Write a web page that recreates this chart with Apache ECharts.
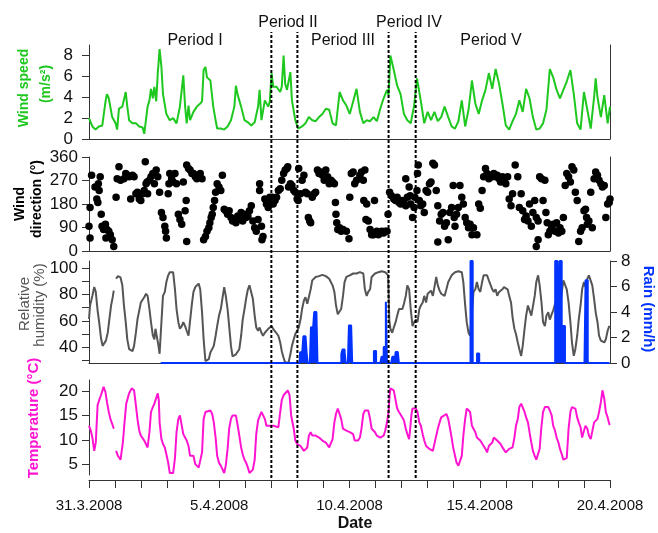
<!DOCTYPE html>
<html><head><meta charset="utf-8">
<script src="https://cdn.jsdelivr.net/npm/echarts@6/dist/echarts.min.js"></script>
<style>html,body{margin:0;padding:0;background:#fff}#c{width:658px;height:533px}</style>
</head><body><div id="c"></div>
<script>
// ---- axis / tick data ----
const dateTicks = [0, 5, 10, 15, 20];            // days since 31.3.2008 00:00
const dateLabels = ['31.3.2008', '5.4.2008', '10.4.2008', '15.4.2008', '20.4.2008'];
const periodBounds = [7.0, 8.0, 11.5, 12.54];    // days
const periodNames = ['Period I', 'Period II', 'Period III', 'Period IV', 'Period V'];
const wsTicks = [0, 2, 4, 6, 8];
const rhTicks = [30, 40, 50, 60, 70, 80, 90, 100];
const rhLabels = [40, 60, 80, 100];
const tTicks = [5, 10, 15, 20];

// ---- wind speed [day, m/s] ----
const wsData = [[0.00,2.0],[0.13,1.2],[0.25,0.9],[0.38,1.2],[0.51,1.3],[0.64,3.7],[0.69,4.3],[0.76,3.9],[0.89,2.1],[1.02,1.5],[1.08,0.9],[1.15,2.9],[1.28,3.1],[1.41,4.5],[1.47,3.1],[1.54,1.8],[1.67,1.5],[1.80,1.5],[1.93,1.2],[2.06,1.1],[2.12,0.5],[2.25,3.1],[2.32,3.7],[2.38,4.8],[2.45,3.9],[2.51,5.0],[2.58,3.6],[2.64,6.3],[2.71,8.6],[2.78,6.9],[2.84,4.3],[2.97,2.4],[3.10,1.8],[3.23,2.0],[3.36,1.5],[3.49,3.1],[3.62,6.1],[3.69,3.1],[3.75,1.5],[3.82,3.2],[3.88,1.8],[4.01,2.6],[4.14,3.1],[4.27,3.4],[4.34,3.6],[4.40,6.6],[4.47,6.9],[4.53,5.9],[4.66,5.6],[4.77,3.1],[4.86,1.8],[4.92,1.0],[5.06,1.0],[5.19,0.9],[5.32,1.2],[5.45,1.8],[5.58,3.1],[5.64,5.1],[5.71,4.2],[5.84,3.1],[5.97,1.8],[6.10,1.6],[6.23,1.3],[6.36,1.6],[6.49,3.1],[6.55,4.7],[6.62,1.8],[6.75,3.7],[6.88,3.1],[6.94,3.6],[7.01,6.3],[7.07,5.0],[7.20,5.0],[7.34,4.5],[7.40,5.0],[7.47,8.0],[7.53,5.3],[7.60,4.7],[7.73,6.4],[7.79,3.7],[7.92,1.8],[8.03,1.0],[8.18,1.2],[8.31,1.5],[8.44,2.1],[8.57,1.8],[8.70,1.7],[8.83,2.1],[8.96,2.4],[9.09,2.9],[9.22,2.8],[9.35,1.5],[9.48,1.3],[9.62,4.5],[9.75,3.7],[9.88,3.2],[10.01,2.4],[10.14,3.6],[10.27,4.8],[10.40,2.6],[10.53,1.5],[10.66,1.8],[10.79,1.7],[10.92,2.1],[11.05,1.7],[11.18,2.9],[11.31,3.9],[11.44,4.7],[11.50,4.2],[11.57,8.0],[11.70,6.6],[11.83,5.1],[11.96,4.3],[12.09,2.4],[12.22,1.8],[12.35,1.5],[12.48,3.2],[12.59,5.8],[12.74,3.6],[12.87,1.5],[13.00,2.6],[13.13,1.8],[13.26,2.6],[13.39,1.7],[13.52,2.1],[13.65,3.1],[13.79,2.1],[13.92,1.2],[14.05,1.0],[14.18,1.7],[14.31,3.7],[14.44,1.2],[14.57,2.8],[14.70,5.6],[14.83,3.4],[14.96,2.4],[15.09,3.7],[15.22,4.7],[15.35,6.3],[15.48,4.8],[15.61,6.7],[15.74,5.3],[15.87,3.4],[16.00,1.3],[16.13,0.9],[16.26,1.7],[16.39,2.4],[16.52,3.7],[16.65,2.6],[16.78,4.8],[16.91,3.9],[17.04,2.1],[17.17,0.9],[17.30,1.0],[17.43,1.5],[17.56,2.8],[17.69,6.7],[17.82,5.9],[17.95,4.7],[18.08,3.9],[18.21,4.7],[18.34,5.5],[18.48,6.6],[18.61,4.3],[18.74,1.5],[18.87,0.9],[19.00,4.5],[19.13,2.8],[19.26,1.0],[19.39,4.0],[19.45,5.8],[19.52,4.0],[19.65,2.1],[19.78,4.2],[19.91,1.5],[20.00,3.1]];

// ---- wind direction [day, deg] ----
const wdData = [[0.00,95],[0.04,50],[0.04,167],[0.10,290],[0.23,245],[0.30,199],[0.34,186],[0.36,258],[0.39,232],[0.43,284],[0.47,141],[0.50,95],[0.56,82],[0.63,102],[0.65,50],[0.69,82],[0.76,76],[0.82,62],[0.89,43],[0.95,17],
[1.04,206],[1.08,277],[1.15,323],[1.21,271],[1.34,277],[1.41,297],[1.47,290],[1.54,284],[1.60,199],[1.67,290],[1.73,284],[1.80,219],[1.86,225],[1.93,199],[1.99,193],[2.06,219],[2.12,232],[2.16,342],[2.19,258],[2.23,264],[2.25,219],[2.32,271],[2.38,284],[2.45,297],[2.51,258],[2.58,310],[2.64,284],[2.71,225],
[2.78,147],[2.84,128],[2.91,95],[2.94,76],[2.97,50],[3.04,219],[3.07,258],[3.10,297],[3.17,277],[3.23,264],[3.30,297],[3.36,258],[3.43,141],[3.49,121],[3.56,102],[3.62,264],[3.69,154],[3.73,193],[3.75,36],[3.75,329],[3.82,316],[3.88,310],[3.95,297],[4.01,297],[4.08,284],[4.14,277],[4.21,290],[4.27,297],[4.34,277],[4.40,43],[4.47,56],[4.53,76],[4.60,89],[4.64,108],[4.69,128],[4.73,141],[4.77,167],[4.82,193],[4.86,225],[4.92,258],[4.99,245],[5.06,232],[5.12,290],
[5.19,160],[5.25,154],[5.32,141],[5.38,154],[5.45,128],[5.51,115],[5.58,121],[5.64,108],[5.71,134],[5.77,121],[5.84,147],[5.90,115],[5.97,141],[6.03,128],[6.10,134],[6.16,154],[6.23,173],[6.29,115],[6.36,89],[6.42,76],[6.49,121],[6.55,232],[6.55,258],[6.62,95],[6.64,43],[6.68,56],[6.75,199],[6.81,180],[6.88,167],[6.94,206],[6.98,186],
[7.04,206],[7.07,180],[7.14,193],[7.20,206],[7.27,232],[7.34,238],[7.40,271],[7.47,297],[7.53,310],[7.60,316],[7.63,323],[7.66,245],[7.73,258],[7.79,251],[7.86,232],[7.92,225],[7.99,199],[8.03,193],[8.05,316],
[8.12,219],[8.18,271],[8.25,290],[8.31,225],[8.38,219],[8.42,128],[8.47,115],[8.51,108],[8.57,206],[8.64,219],[8.70,225],[8.77,310],[8.83,297],[8.90,303],[8.96,290],[9.03,271],[9.09,310],[9.16,284],[9.22,258],[9.29,271],[9.35,264],[9.42,258],[9.46,186],[9.48,141],[9.51,108],[9.55,82],[9.62,89],[9.68,76],[9.75,82],[9.88,76],[9.98,47],[10.01,206],[10.07,297],[10.14,303],[10.20,258],[10.27,271],[10.40,290],[10.46,303],[10.53,271],[10.55,193],[10.59,310],[10.63,121],[10.66,180],[10.72,115],[10.79,82],[10.85,62],[10.92,62],[10.96,193],[10.98,69],[11.05,76],[11.11,62],[11.18,69],[11.24,76],[11.31,69],[11.37,76],[11.44,76],[11.48,141],
[11.54,225],[11.61,212],[11.70,199],[11.77,193],[11.83,206],[11.90,186],[11.96,180],[12.03,193],[12.09,186],[12.16,173],[12.16,277],[12.22,206],[12.29,245],[12.33,212],[12.35,180],[12.42,128],[12.48,167],[12.51,206],[12.59,232],[12.61,297],[12.64,329],[12.68,193],[12.74,173],[12.81,180],[12.87,147],
[12.94,232],[13.00,225],[13.07,258],[13.13,264],[13.20,336],[13.26,329],[13.33,232],[13.39,173],[13.39,34],[13.46,115],[13.52,141],[13.59,147],[13.65,95],[13.72,108],[13.79,43],[13.85,147],[13.92,167],[13.98,251],[14.02,128],[14.05,95],[14.11,141],[14.18,167],[14.24,251],[14.31,206],[14.37,180],[14.44,128],[14.50,108],[14.57,89],[14.63,102],[14.70,62],[14.76,89],[14.89,62],[14.96,180],[15.02,164],[15.09,232],[15.15,284],[15.22,316],[15.28,297],[15.35,277],[15.41,290],[15.48,284],[15.54,297],[15.61,284],[15.67,290],[15.74,277],[15.80,264],[15.87,284],[15.93,271],[16.00,258],[16.07,284],[16.13,199],[16.20,173],[16.26,219],[16.36,329],[16.46,284],[16.52,167],[16.59,219],[16.65,154],[16.72,121],[16.78,134],[16.85,115],[16.91,180],[16.98,95],[17.04,147],[17.11,193],[17.17,128],[17.17,17],[17.24,115],[17.24,43],[17.30,284],[17.37,277],[17.43,193],[17.50,271],[17.54,147],[17.59,108],[17.63,62],[17.69,76],[17.76,89],[17.82,102],[17.89,76],[17.95,108],[18.02,69],[18.08,89],[18.15,76],[18.21,128],[18.28,251],[18.34,297],[18.41,284],[18.48,264],[18.54,323],[18.61,310],[18.67,225],[18.74,193],[18.80,36],[18.87,76],[18.93,89],[19.00,154],[19.06,160],[19.10,128],[19.13,102],[19.19,115],[19.26,225],[19.32,89],[19.39,277],[19.45,303],[19.52,290],[19.58,271],[19.65,258],[19.71,245],[19.78,251],[19.84,128],[19.91,180],[19.97,186],[20.00,199]];

// ---- relative humidity [day, %] ('-' = gap in record) ----
const rhData = [[0.00,61.4],[0.04,71.7],[0.13,79],[0.20,85.7],[0.26,82],[0.33,68],[0.39,59],[0.46,47],[0.52,41],[0.59,42],[0.65,45],[0.72,51],[0.78,61],[0.85,72],[0.91,78],[0.95,83],[0.99,'-'],
[1.04,92],[1.11,94],[1.21,93],[1.28,87],[1.34,72],[1.41,59],[1.47,46],[1.54,38.5],[1.60,37],[1.67,37],[1.73,41],[1.80,51],[1.86,61],[1.93,68],[1.99,74],[2.06,75.5],[2.12,78],[2.19,80.6],[2.25,79],[2.32,69],[2.38,59],[2.45,49],[2.51,46],[2.55,54],[2.61,55],[2.66,42],[2.71,35],[2.78,59],[2.84,79],[2.91,82],[2.97,89.5],[3.04,94.6],[3.10,97],[3.17,98.5],[3.23,97],[3.30,84],[3.36,69],[3.43,59],[3.49,54],[3.56,56],[3.62,59],[3.69,56],[3.75,52.5],[3.82,48.7],[3.88,60],[3.95,73],[4.01,82],[4.08,85.7],[4.14,87],[4.21,88.3],[4.27,84],[4.34,66.5],[4.40,46],[4.47,29.5],[4.53,28.3],[4.60,31],[4.66,36],[4.79,41],[4.86,48.7],[4.92,56],[4.99,64],[5.06,69],[5.12,76.8],[5.19,85.7],[5.25,79],[5.32,69],[5.38,56],[5.45,41],[5.51,33],[5.58,33],[5.64,34.6],[5.71,36],[5.77,38.5],[5.84,48.7],[5.90,61],[5.97,69],[6.03,76.8],[6.10,84],[6.16,87],[6.23,85.7],[6.29,76.8],[6.36,64],[6.42,55],[6.49,52.5],[6.55,55],[6.62,51],[6.68,48.7],[6.75,51],[6.81,52.5],[6.88,54],[6.94,55],[7.01,56],[7.07,54],[7.14,52.5],[7.27,48.7],[7.34,43.6],[7.40,37],[7.47,32],[7.53,28.3],[7.60,28.0],[7.66,28.3],[7.73,34.6],[7.79,41],[7.86,46],[7.92,50],[7.99,52.5],[8.05,55],[8.12,61],[8.18,69],[8.25,75.5],[8.31,78],[8.38,73],[8.44,74],[8.51,84],[8.57,90.8],[8.70,93.4],[8.83,94],[8.96,95],[9.09,94],[9.22,92],[9.35,87],[9.42,82],[9.48,72],[9.55,65],[9.62,64],[9.68,69],[9.75,79],[9.81,89.5],[9.88,93.4],[10.01,94.6],[10.14,96],[10.27,96],[10.40,97],[10.53,96],[10.59,84],[10.66,79],[10.72,82],[10.79,84],[10.85,93.4],[10.98,96],[11.11,97],[11.24,97.7],[11.37,97],[11.44,97],[11.48,94.6],[11.53,60],[11.57,54],[11.64,51],[11.70,55],[11.77,59],[11.83,64],[11.90,69],[11.96,70.4],[12.03,69],[12.09,73],[12.16,79],[12.22,87],[12.29,84],[12.35,69],[12.42,56],[12.48,59],[12.55,61],[12.61,59],[12.68,69],[12.74,71.7],[12.81,74],[12.87,79],[12.94,74],[13.00,80.6],[13.07,80.6],[13.13,83],[13.20,79],[13.26,85.7],[13.33,93.4],[13.39,87],[13.46,83],[13.52,80.6],[13.65,79],[13.72,84],[13.79,89.5],[13.92,94.6],[14.05,97],[14.18,97.7],[14.31,97],[14.37,89.5],[14.44,72],[14.50,59],[14.57,51],[14.63,48.7],[14.70,66.5],[14.76,82],[14.83,84],[14.89,89.5],[14.96,84],[15.02,82],[15.09,89.5],[15.15,94.6],[15.22,96],[15.28,94.6],[15.35,90.8],[15.41,89.5],[15.48,84],[15.54,82],[15.61,84],[15.67,79],[15.74,82],[15.80,80.6],[15.87,84],[15.93,85.7],[16.00,87],[16.07,84],[16.13,79],[16.20,74],[16.26,62.7],[16.33,54],[16.39,50],[16.46,43.6],[16.52,38.5],[16.59,33.4],[16.65,41],[16.72,54],[16.78,64],[16.85,71.7],[16.91,73],[16.98,64],[17.04,65],[17.11,79],[17.17,89.5],[17.24,94.6],[17.30,87],[17.37,74],[17.43,59],[17.50,56],[17.56,64],[17.63,66.5],[17.69,61],[17.76,65],[17.82,68],[17.89,69],[17.95,76.8],[18.02,79],[18.08,70.4],[18.15,82],[18.21,90.8],[18.28,89.5],[18.34,84],[18.41,74],[18.48,59],[18.54,43.6],[18.61,33.4],[18.67,38.5],[18.74,48.7],[18.80,61],[18.87,71.7],[18.93,84],[19.00,89.5],[19.06,85.7],[19.13,92],[19.19,94.6],[19.26,93.4],[19.32,87],[19.39,76.8],[19.45,66.5],[19.52,59],[19.58,48.7],[19.65,45],[19.71,46],[19.78,43.6],[19.84,46],[19.91,52.5],[19.97,56],[20.00,55]];

// ---- rain: hours since 31.3.2008 00:00 with rain, and intensity (mm/h) ----
const rainStartHour = 66, rainEndHour = 480;
const rainHour = [195,196,197,198,199,200,201,205,206,207,208,209,210,233,234,235,236,240,241,242,263,264,270,271,272,273,274,280,281,283,284,285,352,353,358,359,430,431,432,433,434,435,437,438,458,459];
const rainMmh  = [0.85,0.85,0.85,2.1,2.1,2.1,0.8,2.8,2.8,2.8,4.0,4.0,4.0,0.7,1.05,1.05,0.85,2.95,2.95,2.95,0.95,0.95,0.5,0.5,1.25,1.25,4.8,0.5,0.5,0.86,0.86,0.86,8,8,0.75,0.75,8,8,8,1.2,8,8,2.9,2.9,6.5,6.5];

// ---- temperature [day, degC] ----
const tData = [[0.00,12.9],[0.07,11.9],[0.13,10.5],[0.20,7.8],[0.26,9.5],[0.33,17.1],[0.39,18.1],[0.46,19.1],[0.56,20.8],[0.63,19.8],[0.69,17.7],[0.76,15.7],[0.82,14.3],[0.89,13.3],[0.95,12.3],[0.99,'-'],
[1.04,7.8],[1.11,6.8],[1.15,7.1],[1.21,6.0],[1.25,5.8],[1.30,9.5],[1.37,14.0],[1.43,17.4],[1.54,19.5],[1.64,20.5],[1.73,20.1],[1.80,17.1],[1.86,14.3],[1.93,11.9],[1.99,10.9],[2.06,10.5],[2.12,9.9],[2.19,9.5],[2.25,8.5],[2.32,11.6],[2.38,15.7],[2.45,16.7],[2.51,17.4],[2.58,17.1],[2.64,19.5],[2.68,18.1],[2.71,13.6],[2.78,10.2],[2.84,9.2],[2.91,8.5],[2.97,7.1],[3.04,5.4],[3.10,3.3],[3.17,3.0],[3.23,3.3],[3.30,6.4],[3.36,11.6],[3.43,14.3],[3.49,15.0],[3.56,15.0],[3.62,11.2],[3.69,10.9],[3.75,9.9],[3.82,8.8],[3.88,6.8],[3.95,6.4],[4.01,6.8],[4.08,5.1],[4.14,4.8],[4.21,4.4],[4.27,4.8],[4.34,7.5],[4.40,14.3],[4.47,15.7],[4.53,16.0],[4.66,16.0],[4.73,15.3],[4.79,13.6],[4.86,10.5],[4.92,6.8],[4.99,5.4],[5.06,4.8],[5.12,4.4],[5.19,3.3],[5.25,4.8],[5.32,8.2],[5.38,12.3],[5.45,14.3],[5.51,15.0],[5.58,15.3],[5.64,15.0],[5.71,12.9],[5.77,10.9],[5.84,8.5],[5.90,7.1],[5.97,6.0],[6.03,5.4],[6.10,4.4],[6.16,3.3],[6.23,3.3],[6.29,4.0],[6.36,6.0],[6.42,11.2],[6.49,14.0],[6.55,14.3],[6.62,15.7],[6.68,16.0],[6.75,14.3],[6.81,12.9],[6.88,12.6],[6.94,12.9],[7.01,12.6],[7.07,12.9],[7.14,12.6],[7.27,12.6],[7.34,15.7],[7.40,18.1],[7.47,19.1],[7.53,19.5],[7.63,20.1],[7.70,19.1],[7.76,15.0],[7.86,12.3],[7.92,9.9],[7.99,9.2],[8.05,9.2],[8.12,8.8],[8.18,8.5],[8.25,7.8],[8.31,7.8],[8.38,8.5],[8.44,10.9],[8.51,11.6],[8.57,10.9],[8.70,10.9],[8.83,10.5],[8.96,9.9],[9.09,9.5],[9.22,8.5],[9.29,8.8],[9.35,10.2],[9.42,13.6],[9.48,15.3],[9.55,16.4],[9.62,16.0],[9.68,14.3],[9.75,12.3],[9.88,11.9],[10.01,11.6],[10.14,11.2],[10.20,9.9],[10.27,9.5],[10.33,9.9],[10.40,10.5],[10.46,12.3],[10.53,15.3],[10.59,16.0],[10.66,16.4],[10.72,16.0],[10.79,14.3],[10.85,12.3],[10.92,11.9],[10.98,11.6],[11.05,10.9],[11.11,10.5],[11.18,10.5],[11.31,10.9],[11.37,11.9],[11.44,13.6],[11.50,15.7],[11.54,19.1],[11.57,20.5],[11.64,20.8],[11.70,20.1],[11.77,19.8],[11.83,16.4],[11.90,15.7],[11.96,15.3],[12.03,14.6],[12.09,14.0],[12.16,12.3],[12.22,11.2],[12.29,10.2],[12.33,12.3],[12.38,15.3],[12.42,16.4],[12.48,16.7],[12.55,16.4],[12.61,15.7],[12.68,13.6],[12.74,12.9],[12.81,11.2],[12.87,9.9],[12.94,8.8],[13.00,8.5],[13.07,8.2],[13.13,8.5],[13.20,7.8],[13.26,8.2],[13.33,10.9],[13.39,12.3],[13.46,13.6],[13.52,14.6],[13.59,15.0],[13.72,15.3],[13.79,14.3],[13.85,12.6],[13.92,10.5],[13.98,8.5],[14.05,6.8],[14.11,5.4],[14.18,4.8],[14.24,4.4],[14.31,6.8],[14.37,10.9],[14.44,14.3],[14.50,16.4],[14.57,16.7],[14.63,15.7],[14.70,12.9],[14.76,12.6],[14.83,11.6],[14.89,10.5],[14.96,10.5],[15.02,9.9],[15.09,9.5],[15.15,8.8],[15.22,8.2],[15.28,7.5],[15.35,8.8],[15.41,8.8],[15.48,9.5],[15.54,10.5],[15.61,10.2],[15.67,9.9],[15.74,9.5],[15.80,9.2],[15.87,8.5],[15.93,8.2],[16.00,7.5],[16.07,7.8],[16.13,8.2],[16.20,8.2],[16.26,8.5],[16.33,10.5],[16.39,12.9],[16.46,14.3],[16.52,16.7],[16.59,17.4],[16.65,17.1],[16.72,15.7],[16.78,14.6],[16.85,13.6],[16.91,11.6],[16.98,9.5],[17.04,7.8],[17.11,6.8],[17.17,6.0],[17.24,6.4],[17.30,8.2],[17.37,12.9],[17.43,15.7],[17.50,16.7],[17.56,17.1],[17.63,16.7],[17.69,16.0],[17.76,15.0],[17.82,12.9],[17.89,11.9],[17.95,10.5],[18.02,9.5],[18.08,8.2],[18.15,7.1],[18.21,6.0],[18.28,5.8],[18.34,6.4],[18.41,12.3],[18.48,15.7],[18.54,16.7],[18.61,17.1],[18.67,16.4],[18.74,14.6],[18.80,13.6],[18.87,12.6],[18.93,10.5],[19.00,11.9],[19.06,12.9],[19.13,12.3],[19.19,10.9],[19.26,10.2],[19.32,10.5],[19.39,13.6],[19.45,14.0],[19.52,14.3],[19.58,15.7],[19.65,17.7],[19.71,20.1],[19.78,18.4],[19.84,15.7],[19.91,14.6],[19.97,13.3],[20.00,13.1]];

// ---- build hourly rain table from the event list ----
const rainTable = [];
for (let h = rainStartHour; h <= rainEndHour; h++) {
  const k = rainHour.indexOf(h);
  rainTable.push([h / 24, k >= 0 ? rainMmh[k] : 0]);
}

const FONT = 'Liberation Sans, Arial, sans-serif';
const GREEN = '#1ec81e', MAG = '#ff14d2', BLUE = '#0033ff', GRAY = '#555555', AX = '#333333';
const L = 89, R = 48;
const grids = [
  {left: L, right: R, top: 45, height: 94},
  {left: L, right: R, top: 157, height: 94},
  {left: L, right: R, top: 261, height: 102},
  {left: L, right: R, top: 380, height: 95},
  {left: L, right: R, top: 32, height: 446}
];
function plainX(i) {
  return {gridIndex: i, type: 'value', min: 0, max: 20, interval: 1,
    axisLine: {show: true, onZero: false, lineStyle: {color: AX, width: 1}},
    axisTick: {show: false}, axisLabel: {show: false}, splitLine: {show: false}};
}
function lineOnly(i, pos) {
  return {gridIndex: i, type: 'value', position: pos, min: 0, max: 1,
    axisLine: {show: true, onZero: false, lineStyle: {color: AX, width: 1}},
    axisTick: {show: false}, axisLabel: {show: false}, splitLine: {show: false}};
}
const xlbl = {fontFamily: FONT, fontSize: 15, color: '#111'};
const lbl = {fontFamily: FONT, fontSize: 17, color: '#111'};
const xAxes = [plainX(0), plainX(1), plainX(2), {
  gridIndex: 3, type: 'value', min: 0, max: 20, interval: 1, offset: 5,
  axisLine: {show: true, onZero: false, lineStyle: {color: AX, width: 1}},
  axisTick: {show: true, length: 8, lineStyle: {color: AX}},
  axisLabel: Object.assign({margin: 18, customValues: dateTicks,
    formatter: v => dateLabels[dateTicks.indexOf(v)]}, xlbl),
  splitLine: {show: false}
}, {gridIndex: 4, type: 'value', min: 0, max: 20, show: false}];

const yAxes = [
  {gridIndex: 0, type: 'value', min: 0, max: 9,
    axisLine: {show: true, lineStyle: {color: AX}},
    axisTick: {show: true, length: 7, customValues: wsTicks, lineStyle: {color: AX}},
    axisLabel: Object.assign({margin: 16, customValues: wsTicks}, lbl), splitLine: {show: false}},
  lineOnly(0, 'right'),
  {gridIndex: 1, type: 'value', min: 0, max: 360, interval: 90,
    axisLine: {show: true, lineStyle: {color: AX}},
    axisTick: {show: true, length: 7, lineStyle: {color: AX}},
    axisLabel: Object.assign({margin: 11}, lbl), splitLine: {show: false}},
  lineOnly(1, 'right'),
  {gridIndex: 2, type: 'value', min: 28, max: 105.5,
    axisLine: {show: true, lineStyle: {color: AX}},
    axisTick: {show: true, length: 7, customValues: rhTicks, lineStyle: {color: AX}},
    axisLabel: Object.assign({margin: 11, customValues: rhLabels}, lbl), splitLine: {show: false}},
  {gridIndex: 2, type: 'value', position: 'right', min: 0, max: 8, interval: 2,
    axisLine: {show: true, lineStyle: {color: AX}},
    axisTick: {show: true, length: 7, lineStyle: {color: AX}},
    axisLabel: Object.assign({margin: 11}, lbl), splitLine: {show: false}},
  {gridIndex: 3, type: 'value', min: 2.9, max: 22.2,
    axisLine: {show: true, lineStyle: {color: AX}},
    axisTick: {show: true, length: 7, customValues: tTicks, lineStyle: {color: AX}},
    axisLabel: Object.assign({margin: 11, customValues: tTicks}, lbl), splitLine: {show: false}},
  {gridIndex: 4, type: 'value', min: 0, max: 1, show: false}
];

const series = [
  {type: 'line', xAxisIndex: 0, yAxisIndex: 0, data: wsData, showSymbol: false, z: 2,
    lineStyle: {color: GREEN, width: 2}, itemStyle: {color: GREEN}},
  {type: 'scatter', xAxisIndex: 1, yAxisIndex: 2, data: wdData, symbolSize: 7.5, z: 2,
    itemStyle: {color: '#000', opacity: 1}},
  {type: 'line', xAxisIndex: 2, yAxisIndex: 4, data: rhData, showSymbol: false, z: 2,
    lineStyle: {color: GRAY, width: 2}, itemStyle: {color: GRAY}},
  {type: 'line', xAxisIndex: 2, yAxisIndex: 5, data: rainTable, showSymbol: false, step: 'middle', z: 3,
    lineStyle: {color: BLUE, width: 2}, itemStyle: {color: BLUE}, areaStyle: {color: BLUE, opacity: 1}},
  {type: 'line', xAxisIndex: 3, yAxisIndex: 6, data: tData, showSymbol: false, z: 2,
    lineStyle: {color: MAG, width: 2}, itemStyle: {color: MAG}}
].concat(periodBounds.map(b => ({
  type: 'line', xAxisIndex: 4, yAxisIndex: 7, data: [[b, 0], [b, 1]], showSymbol: false, silent: true, z: 10,
  lineStyle: {color: '#000', width: 2, type: [3, 2]}
})));

function vtext(text, x, y, color, size, weight, rot) {
  return {type: 'text', x: x, y: y, rotation: rot, silent: true,
    style: {text: text, fill: color, fontFamily: FONT, fontSize: size, fontWeight: weight,
      align: 'center', verticalAlign: 'middle'}};
}
const periodPos = [[195, 41], [288, 23], [343, 41], [409, 23], [491, 41]];
const graphic = periodNames.map((n, i) => vtext(n, periodPos[i][0], periodPos[i][1], '#111', 16, 'normal', 0)).concat([
  vtext('Wind speed', 24, 88, GREEN, 14, 'bold', Math.PI / 2),
  vtext('(m/s\u00B2)', 46, 84, GREEN, 14, 'bold', Math.PI / 2),
  vtext('Wind', 20, 204, '#000', 14, 'bold', Math.PI / 2),
  vtext('direction (\u00B0)', 37, 199, '#000', 14, 'bold', Math.PI / 2),
  vtext('Relative', 25, 304, GRAY, 15, 'normal', Math.PI / 2),
  vtext('humidity (%)', 40, 305, GRAY, 15, 'normal', Math.PI / 2),
  vtext('Temperature (\u00B0C)', 34, 418, MAG, 15, 'bold', Math.PI / 2),
  vtext('Rain (mm/h)', 648, 309, BLUE, 15, 'bold', -Math.PI / 2),
  vtext('Date', 355, 524, '#111', 16, 'bold', 0)
]);

const chart = echarts.init(document.getElementById('c'), null, {renderer: 'canvas'});
chart.setOption({
  animation: false, backgroundColor: '#fff',
  grid: grids, xAxis: xAxes, yAxis: yAxes, series: series, graphic: graphic
});
</script></body></html>
